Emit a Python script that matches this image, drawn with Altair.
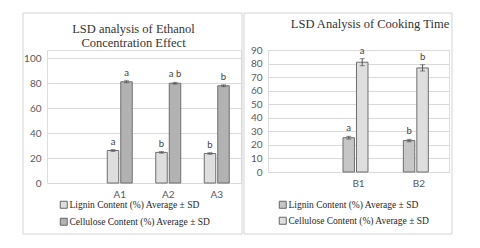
import altair as alt
import pandas as pd

# ---------------- data ----------------
series = ["Lignin Content (%) Average ± SD", "Cellulose Content (%) Average ± SD"]

eth_title = ["LSD analysis of Ethanol", "Concentration Effect"]
eth_groups = ["A1", "A2", "A3"]
eth_lignin = [26.0, 24.5, 23.6]
eth_lignin_sd = [0.7, 0.6, 0.6]
eth_cellulose = [81.0, 79.8, 77.8]
eth_cellulose_sd = [0.8, 0.7, 0.7]
eth_lignin_letters = ["a", "b", "b"]
eth_cellulose_letters = ["a", "a b", "b"]
eth_ticks = [0, 20, 40, 60, 80, 100]

cook_title = "LSD Analysis of Cooking Time"
cook_groups = ["B1", "B2"]
cook_lignin = [25.3, 23.2]
cook_lignin_sd = [1.0, 0.9]
cook_cellulose = [81.0, 76.8]
cook_cellulose_sd = [2.6, 2.3]
cook_lignin_letters = ["a", "b"]
cook_cellulose_letters = ["a", "b"]
cook_ticks = [0, 10, 20, 30, 40, 50, 60, 70, 80, 90]


def table(groups, lig, lig_sd, cel, cel_sd, lig_let, cel_let):
    rows = []
    for i, g in enumerate(groups):
        rows.append(dict(group=g, series=series[0], value=lig[i], sd=lig_sd[i], letter=lig_let[i]))
        rows.append(dict(group=g, series=series[1], value=cel[i], sd=cel_sd[i], letter=cel_let[i]))
    df = pd.DataFrame(rows)
    df["lo"] = df["value"] - df["sd"]
    df["hi"] = df["value"] + df["sd"]
    return df


one = pd.DataFrame({"k": [0]})
SANS = "Lato"
SERIF = "Liberation Serif"


def panel(df, groups, ticks, ymax, w, h, pad_inner, off_inner, fills, frame, titles,
          leg_x, leg_y, leg_row):
    xaxis = alt.Axis(title=None, labelAngle=0, ticks=False, domain=False,
                     labelPadding=6, labelFont=SANS, labelFontSize=10,
                     labelColor="#595959", grid=False)
    xscale = alt.Scale(domain=[" "] + groups, paddingInner=pad_inner,
                       paddingOuter=pad_inner / 2)
    xoff = alt.XOffset("series:N", scale=alt.Scale(domain=series, paddingInner=off_inner,
                                                   paddingOuter=0))
    yaxis = alt.Axis(title=None, values=ticks, domain=False, ticks=False,
                     labelPadding=6, labelFont=SANS, labelFontSize=10, labelOverlap=False,
                     labelColor="#595959", grid=True, gridColor="#d9d9d9", gridWidth=1)
    yscale = alt.Scale(domain=[0, ymax], nice=False)

    def X():
        return alt.X("group:N", scale=xscale, axis=xaxis)

    def Y(f):
        return alt.Y(f, scale=yscale, axis=yaxis)

    base = alt.Chart(df)
    bars = base.mark_bar(stroke="#6e6e6e", strokeWidth=1).encode(
        x=X(), xOffset=xoff, y=Y("value:Q"),
        color=alt.Color("series:N",
                        scale=alt.Scale(domain=series, range=fills),
                        legend=alt.Legend(orient="none", legendX=leg_x, legendY=leg_y,
                                          title=None, symbolType="square", symbolSize=49,
                                          symbolStrokeColor="#666666", symbolStrokeWidth=1,
                                          labelFont=SERIF, labelFontSize=9.5,
                                          labelColor="#262626", rowPadding=leg_row,
                                          labelOffset=1, padding=0)),
    )
    rule = base.mark_rule(color="#555555", strokeWidth=1).encode(
        x=X(), xOffset=xoff, y=Y("lo:Q"), y2="hi:Q")
    cap_hi = base.mark_tick(color="#555555", thickness=1, size=5, orient="horizontal").encode(
        x=X(), xOffset=xoff, y=Y("hi:Q"))
    cap_lo = base.mark_tick(color="#555555", thickness=1, size=5, orient="horizontal").encode(
        x=X(), xOffset=xoff, y=Y("lo:Q"))
    letters = base.mark_text(font=SANS, fontSize=9.5, color="#404040", baseline="alphabetic",
                             dy=-5).encode(
        x=X(), xOffset=xoff, y=Y("hi:Q"), text="letter:N")
    fx, fx2, fy, fy2 = frame
    box = alt.Chart(one).mark_rect(fillOpacity=0, stroke="#d4d4d4", strokeWidth=1).encode(
        x=alt.value(fx), x2=alt.value(fx2), y=alt.value(fy), y2=alt.value(fy2))
    layers = [box, bars, rule, cap_hi, cap_lo, letters]
    for txt, tx, ty in titles:
        layers.append(alt.Chart(one).mark_text(text=txt, font=SERIF, fontSize=12.5,
                                               color="#333333", baseline="middle",
                                               align="center").encode(
            x=alt.value(tx), y=alt.value(ty)))
    return alt.layer(*layers).properties(width=w, height=h)


eth_df = table(eth_groups, eth_lignin, eth_lignin_sd, eth_cellulose, eth_cellulose_sd,
               eth_lignin_letters, eth_cellulose_letters)
cook_df = table(cook_groups, cook_lignin, cook_lignin_sd, cook_cellulose, cook_cellulose_sd,
                cook_lignin_letters, cook_cellulose_letters)

# left plot is taller by 8px above its top gridline so that both frames share one top
left = panel(eth_df, eth_groups, eth_ticks, 106.4, 194, 133, 0.485, 0.15,
             ["#dedede", "#b2b2b2"], (-24, 195, -37, 184),
             [(eth_title[0], 86.5, -21), (eth_title[1], 86.5, -7)],
             12, 150, 5)
right = panel(cook_df, cook_groups, cook_ticks, 90, 181, 122, 0.486, 0.12,
              ["#c6c6c6", "#dedede"], (-24, 184, -37, 184),
              [(cook_title, 102, -26)],
              10, 150, 4)

chart = alt.hconcat(left, right, spacing=0).resolve_scale(
    x="independent", y="independent", color="independent"
).properties(
    padding={"left": 14, "top": 4, "right": 5, "bottom": 5}
).configure_view(stroke=None).configure(background="white")

chart.save("out.html", embed_options={"renderer": "svg", "actions": False})
